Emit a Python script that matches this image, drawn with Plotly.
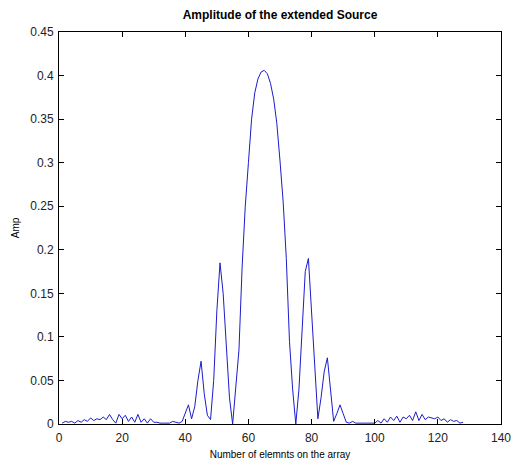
import plotly.graph_objects as go

# Sample index (elements on the array)
elements = list(range(1, 129))

# Amplitude values
amp_left_noise = [
    0.001, 0.003, 0.002, 0.003, 0.001, 0.004, 0.002, 0.005, 0.003, 0.007,
    0.004, 0.006, 0.005, 0.008, 0.005, 0.011, 0.005, 0.001, 0.011, 0.006,
    0.010, 0.003, 0.008, 0.002, 0.011, 0.002, 0.006, 0.001, 0.006, 0.002,
    0.002, 0.001, 0.001, 0.001, 0.001,
]  # 1..35
amp_center = [
    0.003, 0.002, 0.001, 0.003, 0.012, 0.022, 0.006, 0.020, 0.050, 0.072,  # 36..45
    0.035, 0.010, 0.005, 0.050, 0.130, 0.185, 0.150, 0.085, 0.030, 0.000,  # 46..55
    0.045, 0.085, 0.180, 0.250, 0.300, 0.350, 0.380, 0.396, 0.404, 0.406,  # 56..65
    0.402, 0.391, 0.373, 0.345, 0.302, 0.255, 0.190, 0.095, 0.040, 0.000,  # 66..75
    0.040, 0.110, 0.175, 0.190, 0.130, 0.060, 0.006, 0.030, 0.060, 0.076,  # 76..85
    0.040, 0.003, 0.012, 0.022, 0.012, 0.002, 0.001, 0.003, 0.001, 0.001,  # 86..95
]
amp_right_noise = [
    0.001, 0.001, 0.001, 0.001, 0.001, 0.004, 0.001, 0.006, 0.002, 0.008,  # 96..105
    0.004, 0.009, 0.002, 0.008, 0.006, 0.010, 0.004, 0.014, 0.004, 0.011,  # 106..115
    0.005, 0.008, 0.007, 0.006, 0.008, 0.004, 0.006, 0.002, 0.005, 0.003,  # 116..125
    0.004, 0.001, 0.002,                                                   # 126..128
]
amplitude = amp_left_noise + amp_center + amp_right_noise

x_ticks = [0, 20, 40, 60, 80, 100, 120, 140]
y_ticks = [0, 0.05, 0.1, 0.15, 0.2, 0.25, 0.3, 0.35, 0.4, 0.45]
y_tick_labels = ["0", "0.05", "0.1", "0.15", "0.2", "0.25", "0.3", "0.35", "0.4", "0.45"]

fig = go.Figure()
fig.add_trace(go.Scatter(
    x=elements, y=amplitude, mode="lines",
    line=dict(color="#1c1ccc", width=1),
    showlegend=False,
))

font_family = "Liberation Sans, Arial, sans-serif"
axis_common = dict(
    showgrid=False, zeroline=False,
    showline=True, linecolor="black", linewidth=1, mirror="ticks",
    ticks="inside", ticklen=5, tickcolor="black", tickwidth=1,
    tickfont=dict(family=font_family, size=12, color="#222222"),
)

fig.update_layout(
    width=522, height=469,
    paper_bgcolor="white", plot_bgcolor="white",
    margin=dict(l=59, r=11, t=32, b=39),
    title=dict(
        text="<b>Amplitude of the extended Source</b>",
        font=dict(family=font_family, size=12, color="black"),
        x=0.5, xanchor="center", xref="paper",
        y=1 - 15 / 469, yanchor="middle",
    ),
    xaxis=dict(
        range=[0, 140], tickvals=x_ticks,
        title=dict(text="Number of elemnts on the array",
                   font=dict(family=font_family, size=10, color="black"),
                   standoff=6),
        ticklabelstandoff=3,
        **axis_common,
    ),
    yaxis=dict(
        range=[0, 0.45], tickvals=y_ticks, ticktext=y_tick_labels,
        title=dict(text="Amp",
                   font=dict(family=font_family, size=10, color="black"),
                   standoff=8),
        ticklabelstandoff=2,
        **axis_common,
    ),
)

fig.write_html("out.html")
